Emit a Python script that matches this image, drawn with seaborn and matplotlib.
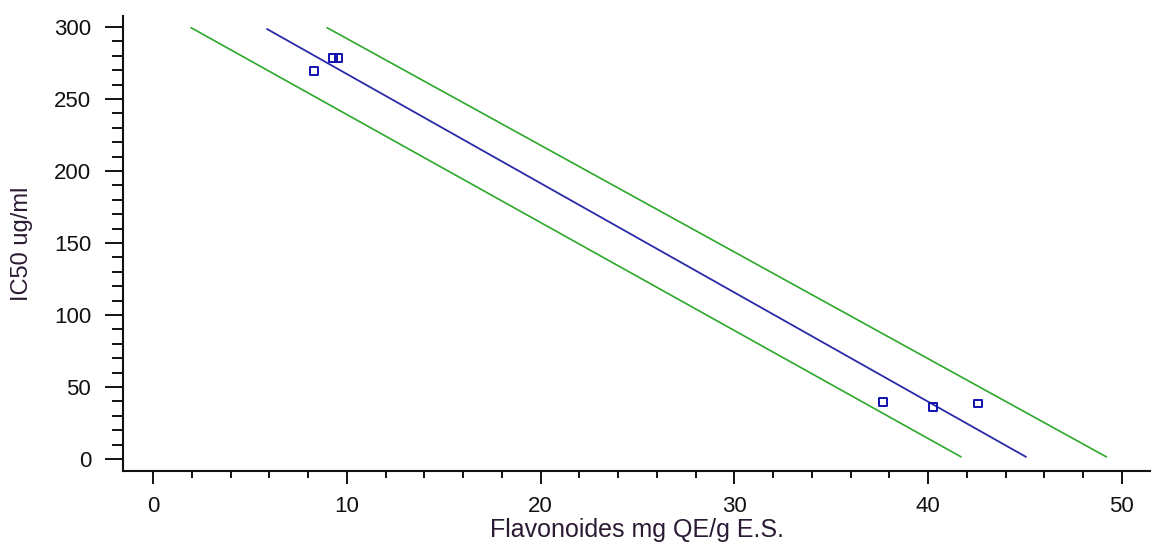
import matplotlib
matplotlib.use("Agg")
import matplotlib.pyplot as plt
from matplotlib.ticker import MultipleLocator
import seaborn as sns
import pandas as pd

sns.set_style("ticks")
plt.rcParams['font.family'] = ['Liberation Sans', 'DejaVu Sans']

# measured points
flav = [8.3, 9.28, 9.58, 37.67, 40.25, 42.57]
ic50 = [269.5, 278.5, 278.5, 39.6, 36.0, 38.5]

# regression line and band, endpoints
fit_x = [5.88, 45.05]
fit_y = [298.6, 1.5]
lower_x = [1.96, 41.7]
lower_y = [299.5, 1.5]
upper_x = [8.98, 49.2]
upper_y = [299.5, 1.5]

points = pd.DataFrame({"x": flav, "y": ic50})

fig = plt.figure(figsize=(11.53, 5.43), dpi=100)
ax = fig.add_axes([0.1067, 0.1326, 0.8907, 0.8379])

sns.lineplot(x=lower_x, y=lower_y, ax=ax, color="#2ca82c", linewidth=1.2)
sns.lineplot(x=upper_x, y=upper_y, ax=ax, color="#2ca82c", linewidth=1.2)
sns.lineplot(x=fit_x, y=fit_y, ax=ax, color="#2a2aa8", linewidth=1.3)
sns.scatterplot(data=points, x="x", y="y", ax=ax, marker="s", s=30,
                facecolor="none", edgecolor="#1010b0", linewidth=1.4, zorder=5)

ax.set_xlim(-1.55, 51.45)
ax.set_ylim(-8.3, 307.6)
ax.xaxis.set_major_locator(MultipleLocator(10))
ax.xaxis.set_minor_locator(MultipleLocator(2))
ax.yaxis.set_major_locator(MultipleLocator(50))
ax.yaxis.set_minor_locator(MultipleLocator(10))

sns.despine(ax=ax)
for s in ["left", "bottom"]:
    ax.spines[s].set_linewidth(1.5)
    ax.spines[s].set_color("#111111")

ax.tick_params(axis="y", which="major", length=13, width=1.4, pad=10, labelsize=16,
               color="#111111", labelcolor="#111111")
ax.tick_params(axis="y", which="minor", length=8, width=1.4, color="#111111")
ax.tick_params(axis="x", which="major", length=9, width=1.4, pad=9, labelsize=16,
               color="#111111", labelcolor="#111111")
ax.tick_params(axis="x", which="minor", length=5, width=1.4, color="#111111")

ax.set_xlabel("Flavonoides mg QE/g E.S.", fontsize=18, color="#2b1a33", labelpad=1)
ax.set_ylabel("IC50 ug/ml", fontsize=17, color="#2b1a33", labelpad=15)

plt.savefig("out.png", dpi=100)
